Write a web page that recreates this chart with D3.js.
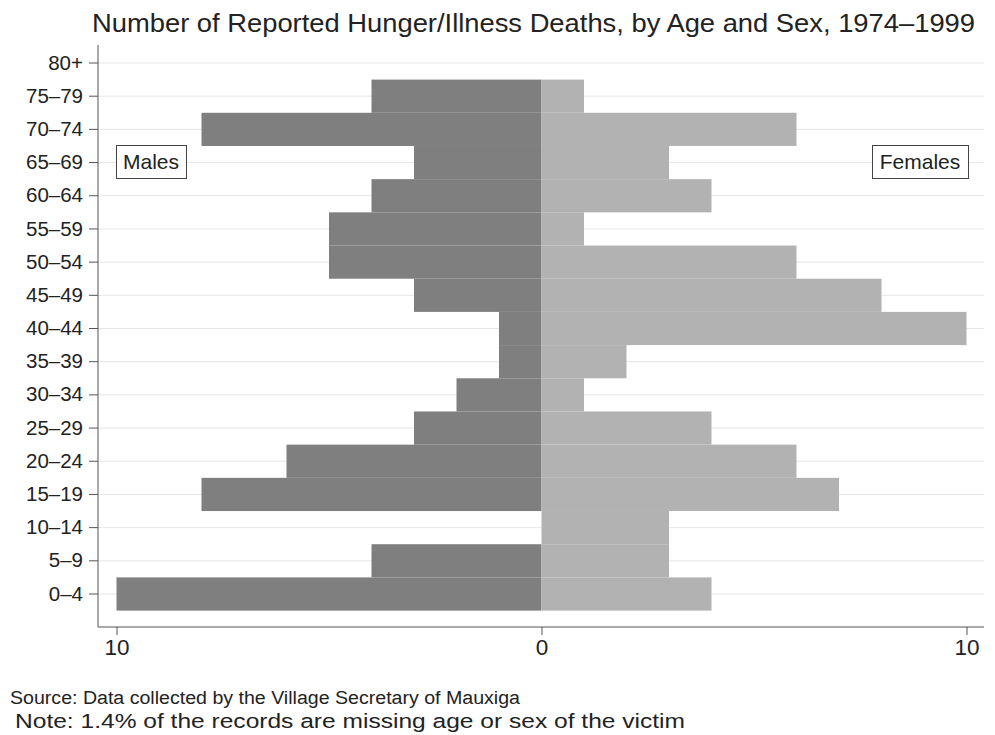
<!DOCTYPE html>
<html>
<head>
<meta charset="utf-8">
<script src="https://cdn.jsdelivr.net/npm/d3@7"></script>
<style>
  html, body { margin: 0; padding: 0; background: #fff; }
  svg { display: block; font-family: "Liberation Sans", Arial, sans-serif; }
</style>
</head>
<body>
<svg id="chart" width="995" height="735"></svg>
<script>
// Age groups, youngest first
const ageGroups = ["0–4", "5–9", "10–14", "15–19", "20–24", "25–29", "30–34", "35–39",
                   "40–44", "45–49", "50–54", "55–59", "60–64", "65–69", "70–74", "75–79", "80+"];
// Reported deaths per age group
const males   = [10, 4, 0, 8, 6, 3, 2, 1, 1, 3, 5, 5, 4, 3, 8, 4, 0];
const females = [4, 3, 3, 7, 6, 4, 1, 2, 10, 8, 6, 1, 4, 3, 6, 1, 0];
const xTicks = [-10, 0, 10];

const svg = d3.select("#chart");
const plot = { left: 98, right: 984, top: 45, bottom: 627 };
const FONT = "Liberation Sans, Arial, sans-serif";

const x = d3.scaleLinear().domain([-10, 10]).range([116.5, 966.5]);
const step = (594 - 63) / 16;
const y = d3.scaleBand()
  .domain(ageGroups)
  .range([594 + step / 2, 63 - step / 2])
  .paddingInner(0).paddingOuter(0);

// horizontal gridlines
svg.append("g").selectAll("line").data(ageGroups).join("line")
  .attr("x1", plot.left).attr("x2", plot.right)
  .attr("y1", d => y(d) + y.bandwidth() / 2)
  .attr("y2", d => y(d) + y.bandwidth() / 2)
  .attr("stroke", "#e6e6e6").attr("stroke-width", 1);

// males extend left of zero
svg.append("g").selectAll("rect").data(ageGroups).join("rect")
  .attr("x", (d, i) => x(-males[i]))
  .attr("width", (d, i) => x(0) - x(-males[i]))
  .attr("y", d => y(d))
  .attr("height", y.bandwidth())
  .attr("fill", "#7f7f7f");

// females extend right of zero
svg.append("g").selectAll("rect").data(ageGroups).join("rect")
  .attr("x", x(0))
  .attr("width", (d, i) => x(females[i]) - x(0))
  .attr("y", d => y(d))
  .attr("height", y.bandwidth())
  .attr("fill", "#b2b2b2");

// y axis
const yAxis = svg.append("g")
  .attr("transform", `translate(${plot.left},0)`)
  .call(d3.axisLeft(y).tickSize(9).tickPadding(6).tickSizeOuter(0));
yAxis.select(".domain").attr("d", `M0,${plot.top}V${plot.bottom}`).attr("stroke", "#555");
yAxis.selectAll(".tick line").attr("stroke", "#555");
yAxis.selectAll(".tick text").attr("font-size", 20.5).attr("fill", "#222")
  .attr("font-family", FONT);

// x axis, absolute values on both sides
const xAxis = svg.append("g")
  .attr("transform", `translate(0,${plot.bottom})`)
  .call(d3.axisBottom(x).tickValues(xTicks).tickFormat(d => Math.abs(d)).tickSize(8).tickPadding(4).tickSizeOuter(0));
xAxis.select(".domain").attr("d", `M${plot.left},0H${plot.right}`).attr("stroke", "#555");
xAxis.selectAll(".tick line").attr("stroke", "#555");
xAxis.selectAll(".tick text").attr("font-size", 22.5).attr("fill", "#222")
  .attr("font-family", FONT);

// side labels
function boxLabel(text, x0, x1, y0, y1) {
  const g = svg.append("g");
  g.append("rect").attr("x", x0 + 0.5).attr("y", y0 + 0.5).attr("width", x1 - x0).attr("height", y1 - y0)
    .attr("fill", "#fff").attr("stroke", "#444").attr("stroke-width", 1);
  g.append("text").attr("x", (x0 + x1) / 2).attr("y", (y0 + y1) / 2).attr("dy", "0.36em")
    .attr("text-anchor", "middle").attr("font-size", 21).attr("fill", "#222").text(text);
}
boxLabel("Males", 116, 186, 145, 178);
boxLabel("Females", 872, 968, 145, 178);

// title and notes
svg.append("text").attr("x", 92).attr("y", 32)
  .attr("font-size", 26).attr("fill", "#222")
  .attr("textLength", 883).attr("lengthAdjust", "spacingAndGlyphs")
  .text("Number of Reported Hunger/Illness Deaths, by Age and Sex, 1974–1999");
svg.append("text").attr("x", 10).attr("y", 704).attr("font-size", 18).attr("fill", "#222")
  .attr("textLength", 510).attr("lengthAdjust", "spacingAndGlyphs")
  .text("Source: Data collected by the Village Secretary of Mauxiga");
svg.append("text").attr("x", 15).attr("y", 728).attr("font-size", 20.5).attr("fill", "#222")
  .attr("textLength", 670).attr("lengthAdjust", "spacingAndGlyphs")
  .text("Note: 1.4% of the records are missing age or sex of the victim");
</script>
</body>
</html>
